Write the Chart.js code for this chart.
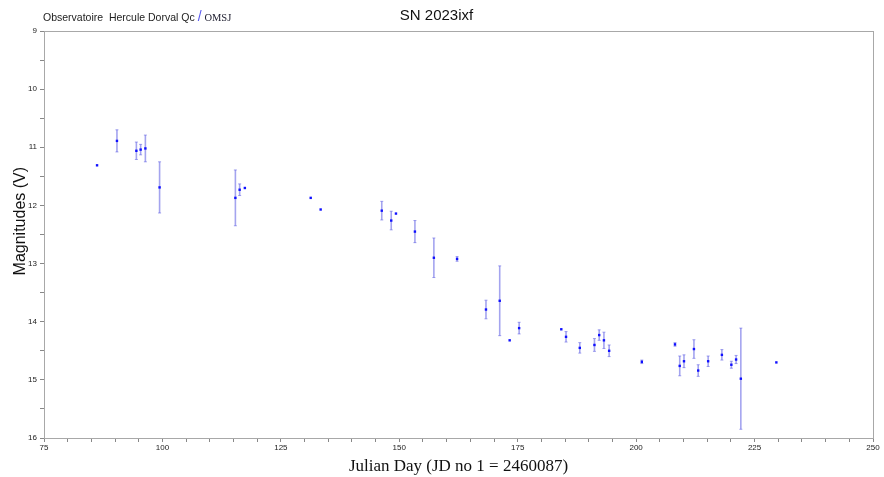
<!DOCTYPE html>
<html>
<head>
<meta charset="utf-8">
<script src="https://cdn.jsdelivr.net/npm/chart.js@4/dist/chart.umd.min.js"></script>
<style>
  html, body {
    margin: 0;
    padding: 0;
    background: #fff;
  }
  .wrap {
    position: relative;
    width: 884px;
    height: 477px;
  }
  .observer {
    position: absolute;
    left: 43px;
    top: 8px;
    font: 10.5px "Liberation Sans", Arial, sans-serif;
    color: #222;
    white-space: pre;
  }
  .observer .slash {
    color: #5a5af0;
    font-size: 14px;
  }
  .observer .omsj {
    font-family: "Liberation Serif", "Times New Roman", serif;
    color: #223;
  }
</style>
</head>
<body>
<div class="wrap">
  <canvas id="chart" width="884" height="477"></canvas>
  <div class="observer">Observatoire  Hercule Dorval Qc <span class="slash">/</span> <span class="omsj">OMSJ</span></div>
</div>
<script>
// Julian day (JD no 1 = 2460087), V magnitude and its uncertainty
const julianDays = [86.2, 90.4, 94.5, 95.4, 96.4, 99.4, 115.4, 116.3, 117.4, 131.3,
  133.4, 146.3, 148.3, 149.3, 153.3, 157.3, 162.2, 168.3, 171.2, 173.3,
  175.3, 184.2, 185.2, 188.1, 191.2, 192.2, 193.2, 194.3, 201.2, 208.2,
  209.2, 210.1, 212.2, 213.1, 215.2, 218.1, 220.1, 221.1, 222.1, 229.6];
const magnitudes = [11.31, 10.89, 11.06, 11.04, 11.02, 11.69, 11.87, 11.73, 11.70, 11.87,
  12.07, 12.09, 12.26, 12.14, 12.45, 12.90, 12.92, 13.79, 13.64, 14.32,
  14.11, 14.13, 14.26, 14.45, 14.40, 14.23, 14.32, 14.50, 14.69, 14.39,
  14.76, 14.68, 14.47, 14.84, 14.68, 14.57, 14.74, 14.65, 14.98, 14.70];
const errors = [0, 0.19, 0.15, 0.09, 0.23, 0.44, 0.48, 0.10, 0, 0,
  0, 0.16, 0.16, 0, 0.19, 0.34, 0.04, 0.16, 0.60, 0,
  0.10, 0, 0.09, 0.09, 0.11, 0.09, 0.14, 0.10, 0.03, 0.03,
  0.17, 0.11, 0.16, 0.10, 0.09, 0.09, 0.06, 0.07, 0.87, 0];

const points = julianDays.map((x, i) => ({ x, y: magnitudes[i], err: errors[i] }));

// vertical error bars, drawn under the points
const errorBars = {
  id: "errorBars",
  beforeDatasetsDraw(chart) {
    const { ctx, scales: { x, y } } = chart;
    ctx.save();
    ctx.strokeStyle = "rgba(90, 90, 225, 0.55)";
    points.forEach(p => {
      if (!p.err) return;
      const px = x.getPixelForValue(p.x);
      const top = y.getPixelForValue(p.y - p.err);
      const bottom = y.getPixelForValue(p.y + p.err);
      ctx.lineWidth = 1.6;
      ctx.beginPath();
      ctx.moveTo(px, top);
      ctx.lineTo(px, bottom);
      ctx.stroke();
      ctx.lineWidth = 1;
      ctx.beginPath();
      ctx.moveTo(px - 1.5, top);
      ctx.lineTo(px + 1.5, top);
      ctx.moveTo(px - 1.5, bottom);
      ctx.lineTo(px + 1.5, bottom);
      ctx.stroke();
    });
    ctx.restore();
  }
};

// grey frame round the plot area
const frame = {
  id: "frame",
  afterDraw(chart) {
    const { ctx, chartArea: a } = chart;
    ctx.save();
    ctx.strokeStyle = "#a8a8a8";
    ctx.lineWidth = 1;
    ctx.strokeRect(a.left + 0.5, a.top + 0.5, a.right - a.left, a.bottom - a.top);
    ctx.restore();
  }
};

const tickFont = { family: "'Liberation Sans', Arial, sans-serif", size: 8 };

new Chart(document.getElementById("chart"), {
  type: "scatter",
  data: {
    datasets: [
      {
        label: "SN 2023ixf",
        data: points,
        backgroundColor: "#1010ff",
        borderColor: "#1010ff",
        pointStyle: "rect",
        pointRadius: 1.7,
        borderWidth: 0
      }
    ]
  },
  options: {
    responsive: false,
    animation: false,
    layout: { padding: { left: 0, right: 11, top: 0, bottom: 0 } },
    plugins: {
      legend: { display: false },
      tooltip: { enabled: false },
      title: {
        display: true,
        text: "SN 2023ixf",
        color: "#111",
        font: { family: "'Liberation Sans', Arial, sans-serif", size: 15, weight: "normal" },
        padding: { top: 6.5, bottom: 6.5 }
      }
    },
    scales: {
      x: {
        type: "linear",
        min: 75,
        max: 250,
        afterFit(scale) { scale.height = 39; },
        ticks: {
          stepSize: 5,
          autoSkip: false,
          maxRotation: 0,
          padding: 1,
          color: "#222",
          font: tickFont,
          callback: v => (v % 25 === 0 ? v : "")
        },
        grid: { drawOnChartArea: false, tickLength: 4, color: "#888" },
        border: { color: "#a8a8a8" },
        title: {
          display: true,
          text: "Julian Day (JD no 1 = 2460087)",
          color: "#111",
          font: { family: "'Liberation Serif', 'Times New Roman', serif", size: 17 },
          padding: { top: 0, bottom: 0 }
        }
      },
      y: {
        type: "linear",
        reverse: true,
        min: 9,
        max: 16,
        afterFit(scale) { scale.width = 44; },
        ticks: {
          stepSize: 0.5,
          autoSkip: false,
          padding: 3,
          color: "#222",
          font: tickFont,
          callback: v => (Number.isInteger(v) ? v : "")
        },
        grid: { drawOnChartArea: false, tickLength: 4, color: "#888" },
        border: { color: "#a8a8a8" },
        title: {
          display: true,
          // leading spaces lift the label a little above the axis centre, as in the original
          text: "\u00a0\u00a0\u00a0\u00a0\u00a0\u00a0Magnitudes (V)",
          color: "#111",
          font: { family: "'Liberation Sans', Arial, sans-serif", size: 16 },
          padding: { top: 11, bottom: 0 }
        }
      }
    }
  },
  plugins: [errorBars, frame]
});
</script>
</body>
</html>
